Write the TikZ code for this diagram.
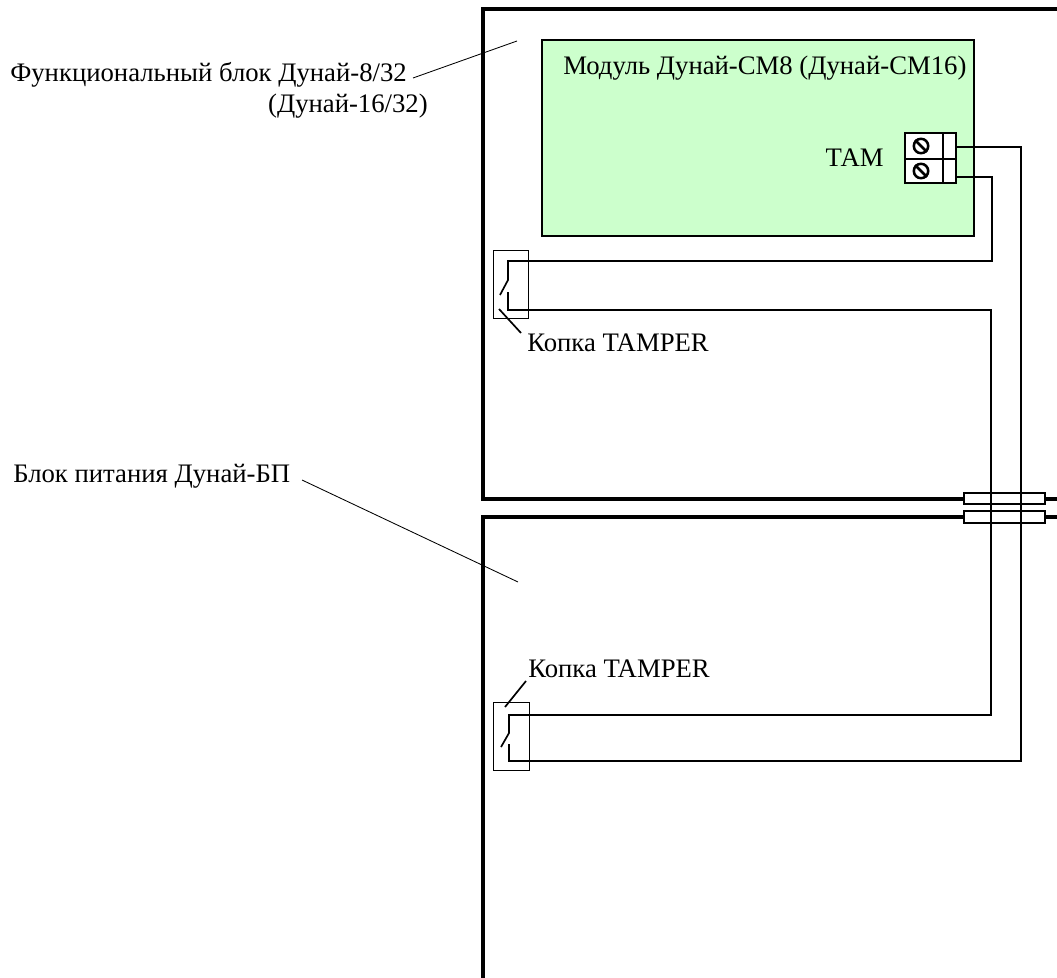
\documentclass[tikz,border=0pt]{standalone}
\usepackage{fontspec}
\setmainfont{Liberation Serif}
\tikzset{
    caselines/.style={line width=2.9pt},
    wire/.style={line width=1.2pt},
    thinline/.style={line width=0.6pt},
    label/.style={inner sep=0pt,font=\fontsize{19}{22}\selectfont},
    screw/.style={circle,draw,line width=1.8pt,minimum size=0.36cm,inner sep=0pt},
}
\begin{document}
\begin{tikzpicture}[x=0.025cm,y=-0.025cm]
    \useasboundingbox (0,0) rectangle (1057,978);
    % cases
    \draw [caselines] (1057,9) -- (483,9) -- (483,499) -- (964,499);
    \draw [caselines] (1045,499) -- (1057,499);
    \draw [caselines] (964,517) -- (483,517) -- (483,978);
    \draw [caselines] (1045,517) -- (1057,517);
    % module
    \filldraw [draw=black,fill=green!20,line width=1.2pt] (542,40) rectangle (974,236);
    \node[label,anchor=base west] at (563,75) (modlabel){Модуль Дунай-СМ8 (Дунай-СМ16)};
    \node[label,anchor=base east] at (884,167) (tamlabel){ТАМ};
    % terminal block
    \filldraw [draw=black,fill=white,line width=1.8pt] (905,133) rectangle (956,183);
    \draw [line width=1.8pt] (905,159) -- (956,159);
    \draw [line width=1.8pt] (943,133) -- (943,183);
    \node[screw] at (921,146) (screwa){};
    \node[screw] at (921,171) (screwb){};
    \draw [line width=1.8pt] (screwa.north west) -- (screwa.south east);
    \draw [line width=1.8pt] (screwb.north west) -- (screwb.south east);
    \coordinate (terma) at (956,147);
    \coordinate (termb) at (956,177);
    % upper tamper
    \draw [thinline] (493,250) rectangle (528,318);
    \coordinate (swa) at (508,261);
    \coordinate (swb) at (508,310);
    \draw [wire] (termb) -- (992,177) -- (992,261) -- (swa) -- (508,280) -- (500,295);
    \draw [wire] (508,292) -- (swb) -- (991,310) -- (991,715) -- (509,715) -- (509,733) -- (501,747);
    \node[label,anchor=base west] at (527,351) (tampera){Копка TAMPER};
    \draw [wire] (499,309) -- (521,333);
    % lower tamper
    \draw [thinline] (493,702) rectangle (529,770);
    \draw [wire] (terma) -- (1021,147) -- (1021,761) -- (509,761) -- (509,744);
    \node[label,anchor=base west] at (528,677) (tamperb){Копка TAMPER};
    \draw [wire] (505,707) -- (526,681);
    % feed-through
    \draw [line width=1.4pt] (964,493) rectangle (1045,504);
    \draw [line width=1.4pt] (964,511) rectangle (1045,523);
    % labels
    \node[label,anchor=base west] at (10,82) (blocka){Функциональный блок Дунай-8/32};
    \node[label,anchor=base east] at (428,113) (blockb){(Дунай-16/32)};
    \node[label,anchor=base west] at (13,482) (blockc){Блок питания Дунай-БП};
    \draw [thinline] (413,78) -- (517,41);
    \draw [thinline] (302,480) -- (518,582);
\end{tikzpicture}
\end{document}
